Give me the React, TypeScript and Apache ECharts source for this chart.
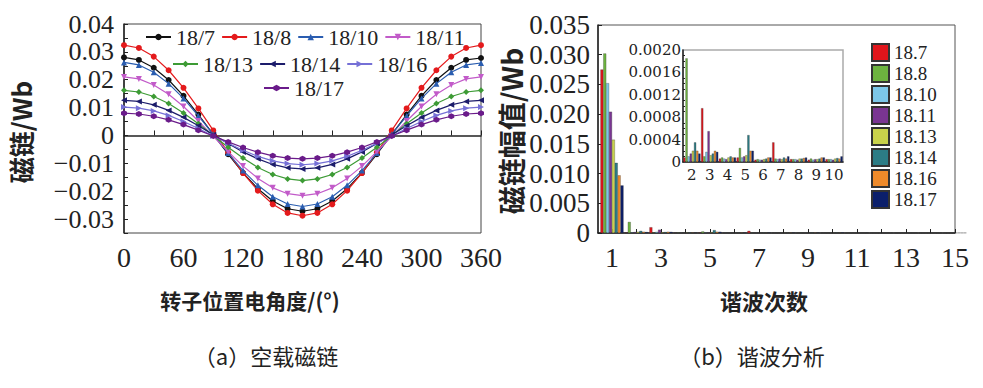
import React, { useEffect, useRef } from 'react';
import * as echarts from 'echarts';

// ---------- (a) no-load flux linkage ----------
const angles = [0, 15, 30, 45, 60, 75, 90, 105, 120, 135, 150, 165, 180, 195, 210, 225, 240, 255, 270, 285, 300, 315, 330, 345, 360];
const flux187 = [0.0280, 0.0271, 0.0243, 0.0199, 0.0142, 0.0075, 0.0004, -0.0067, -0.0134, -0.0191, -0.0235, -0.0263, -0.0272, -0.0263, -0.0235, -0.0191, -0.0134, -0.0067, 0.0004, 0.0075, 0.0142, 0.0199, 0.0243, 0.0271, 0.0278];
const flux188 = [0.0324, 0.0314, 0.0283, 0.0234, 0.0171, 0.0097, 0.0018, -0.0061, -0.0135, -0.0198, -0.0247, -0.0278, -0.0288, -0.0278, -0.0247, -0.0198, -0.0135, -0.0061, 0.0018, 0.0097, 0.0171, 0.0234, 0.0283, 0.0314, 0.0324];
const flux1810 = [0.0262, 0.0253, 0.0227, 0.0186, 0.0133, 0.0070, 0.0004, -0.0063, -0.0126, -0.0179, -0.0220, -0.0246, -0.0255, -0.0246, -0.0220, -0.0179, -0.0126, -0.0063, 0.0004, 0.0070, 0.0133, 0.0186, 0.0227, 0.0253, 0.0260];
const flux1811 = [0.0210, 0.0203, 0.0181, 0.0148, 0.0104, 0.0052, -0.0003, -0.0058, -0.0110, -0.0154, -0.0188, -0.0209, -0.0216, -0.0209, -0.0188, -0.0154, -0.0110, -0.0058, -0.0003, 0.0052, 0.0104, 0.0148, 0.0181, 0.0203, 0.0210];
const flux1813 = [0.0162, 0.0156, 0.0140, 0.0115, 0.0081, 0.0042, 0.0000, -0.0042, -0.0081, -0.0115, -0.0140, -0.0156, -0.0162, -0.0156, -0.0140, -0.0115, -0.0081, -0.0042, 0.0000, 0.0042, 0.0081, 0.0115, 0.0140, 0.0156, 0.0162];
const flux1814 = [0.0126, 0.0122, 0.0110, 0.0090, 0.0065, 0.0035, 0.0003, -0.0029, -0.0059, -0.0084, -0.0104, -0.0116, -0.0120, -0.0116, -0.0104, -0.0084, -0.0059, -0.0029, 0.0003, 0.0035, 0.0065, 0.0090, 0.0110, 0.0122, 0.0126];
const flux1816 = [0.0102, 0.0098, 0.0088, 0.0072, 0.0050, 0.0025, -0.0002, -0.0028, -0.0053, -0.0075, -0.0091, -0.0101, -0.0105, -0.0101, -0.0091, -0.0075, -0.0053, -0.0028, -0.0002, 0.0025, 0.0050, 0.0072, 0.0088, 0.0098, 0.0102];
const flux1817 = [0.0080, 0.0077, 0.0069, 0.0056, 0.0039, 0.0019, -0.0002, -0.0023, -0.0043, -0.0060, -0.0073, -0.0081, -0.0084, -0.0081, -0.0073, -0.0060, -0.0043, -0.0023, -0.0002, 0.0019, 0.0039, 0.0056, 0.0069, 0.0077, 0.0080];
const lineNames = ['18/7', '18/8', '18/10', '18/11', '18/13', '18/14', '18/16', '18/17'];

// ---------- (b) harmonic analysis ----------
const harmonics = [1, 2, 3, 4, 5, 6, 7, 8, 9, 10, 11, 12, 13, 14, 15];
const harmonicLabels = [1, 3, 5, 7, 9, 11, 13, 15];
const insetLabels = ['2', '3', '4', '5', '6', '7', '8', '9', '10'];
const amp187 = [0.0275, 0.00008, 0.00096, 0.00006, 0.00008, 0.00004, 0.00035, 0.00005, 0.00004, 0.00005, 0.00004, 0.00003, 0.00004, 0.00003, 0.00003];
const amp188 = [0.0302, 0.00185, 0.0001, 0.00008, 0.00025, 0.00005, 0.00006, 0.00005, 0.00006, 0.00005, 0.00004, 0.00004, 0.00003, 0.00004, 0.00003];
const amp1810 = [0.0252, 0.0001, 0.00018, 0.00006, 0.00008, 0.00004, 0.00005, 0.00005, 0.00004, 0.00005, 0.00003, 0.00004, 0.00003, 0.00003, 0.00003];
const amp1811 = [0.0204, 0.00015, 0.00055, 0.00005, 0.0001, 0.00004, 0.00006, 0.00004, 0.00005, 0.00004, 0.00004, 0.00003, 0.00004, 0.00003, 0.00003];
const amp1813 = [0.0157, 0.0002, 0.00012, 0.00008, 0.00012, 0.00005, 0.00005, 0.00006, 0.00005, 0.00006, 0.00004, 0.00004, 0.00003, 0.00004, 0.00003];
const amp1814 = [0.0118, 0.00035, 0.00015, 0.0001, 0.00048, 0.00006, 0.00008, 0.00006, 0.00006, 0.00007, 0.00005, 0.00004, 0.00004, 0.00003, 0.00004];
const amp1816 = [0.0097, 0.0002, 0.0002, 0.00008, 0.0002, 0.00008, 0.00006, 0.00007, 0.00008, 0.00006, 0.00005, 0.00005, 0.00004, 0.00004, 0.00003];
const amp1817 = [0.0080, 0.00015, 0.00018, 0.00008, 0.0002, 0.00008, 0.0001, 0.00008, 0.00008, 0.0001, 0.00006, 0.00005, 0.00005, 0.00004, 0.00004];
const barNames = ['18.7', '18.8', '18.10', '18.11', '18.13', '18.14', '18.16', '18.17'];

const lineColors = ['#111111', '#e41a1c', '#2a5db0', '#c25bc9', '#3d9b35', '#1c1c6b', '#7570d6', '#6a1b8a'];
const lineSymbols = ['circle', 'circle', 'triangle', 'triangle', 'diamond', 'triangle', 'triangle', 'path://M0,-1 L0.866,-0.5 L0.866,0.5 L0,1 L-0.866,0.5 L-0.866,-0.5Z'];
const lineRotates = [0, 0, 0, 180, 0, 90, -90, 0];
const barColors = ['#e0151b', '#6db33f', '#7cc7e8', '#7a3592', '#c9d24b', '#2c7c85', '#ee8a2a', '#0b1f6b'];

const SERIF = 'Liberation Serif';
const WIDE_SERIF = 'DejaVu Serif';
const CJK = 'Noto Sans CJK SC';

function fmtY(v: number) {
  const k = Math.round(v * 1000);
  if (k % 10 !== 0) return '';
  if (k === 0) return '0';
  return (k < 0 ? '\u2212' : '') + (Math.abs(k) / 1000).toFixed(2);
}

export default function App() {
  const ref = useRef<HTMLDivElement>(null);
  useEffect(() => {
    const chart = echarts.init(ref.current!, null, { renderer: 'svg' });
    const fluxes = [flux187, flux188, flux1810, flux1811, flux1813, flux1814, flux1816, flux1817];
    const amps = [amp187, amp188, amp1810, amp1811, amp1813, amp1814, amp1816, amp1817];

    const lineSeries = lineNames.map((name, i) => ({
      name,
      type: 'line',
      xAxisIndex: 0,
      yAxisIndex: 0,
      data: angles.map((a, j) => [a, fluxes[i][j]]),
      symbol: lineSymbols[i],
      symbolRotate: lineRotates[i],
      symbolSize: 6,
      lineStyle: { color: lineColors[i], width: 1.2 },
      itemStyle: { color: lineColors[i] },
      z: 3 + i,
    }));

    const mainBars = barNames.map((name, i) => ({
      name,
      type: 'bar',
      xAxisIndex: 1,
      yAxisIndex: 1,
      data: harmonics.map((h, j) => [h, amps[i][j]]),
      barGap: '0%',
      barCategoryGap: '6%',
      itemStyle: { color: barColors[i], borderColor: '#333', borderWidth: 0.3 },
    }));

    const insetBars = barNames.map((name, i) => ({
      name,
      type: 'bar',
      xAxisIndex: 2,
      yAxisIndex: 2,
      data: amps[i].slice(1, 10),
      barGap: '0%',
      barCategoryGap: '4%',
      z: 10,
      itemStyle: { color: barColors[i], borderColor: '#333', borderWidth: 0.3 },
    }));

    const axisLine = { show: true, lineStyle: { color: '#222', width: 1.5 } };
    const legendText = { fontFamily: SERIF, fontSize: 22, color: '#222' };
    const titleStyle = (text: string, size: number, weight: string) => ({
      text, fontFamily: CJK, fontSize: size, fontWeight: weight, fill: '#222',
      textAlign: 'center', textVerticalAlign: 'middle',
    });

    chart.setOption({
      animation: false,
      backgroundColor: '#fff',
      grid: [
        { left: 124, top: 24, width: 357, height: 209, show: true, borderColor: '#444', borderWidth: 1 },
        { left: 598, top: 25, width: 357, height: 208, show: true, borderColor: '#555', borderWidth: 1 },
        { left: 683, top: 50, width: 160, height: 112, show: true, borderColor: '#aaa', borderWidth: 1.5, backgroundColor: '#fff', z: 5 },
      ],
      xAxis: [
        {
          gridIndex: 0, type: 'value', min: 0, max: 360, interval: 60,
          axisLine, splitLine: { show: false },
          axisTick: { inside: true, length: 5, lineStyle: { color: '#222' } },
          minorTick: { show: true, splitNumber: 2, length: 5, lineStyle: { color: '#222' } },
          axisLabel: { fontFamily: SERIF, fontSize: 28, color: '#222', margin: 10 },
        },
        {
          gridIndex: 1, type: 'value', min: 0.43, max: 15,
          axisLine, splitLine: { show: false },
          axisTick: { inside: true, length: 4, customValues: harmonics, lineStyle: { color: '#222' } },
          axisLabel: { fontFamily: SERIF, fontSize: 28, color: '#222', margin: 10, customValues: harmonicLabels },
        },
        {
          gridIndex: 2, type: 'category', data: insetLabels,
          axisLine, splitLine: { show: false },
          axisTick: { inside: true, length: 3, alignWithLabel: true, interval: 0, lineStyle: { color: '#222' } },
          axisLabel: { fontFamily: WIDE_SERIF, fontSize: 15, color: '#222', margin: 5, interval: 0 },
          z: 10,
        },
      ],
      yAxis: [
        {
          gridIndex: 0, type: 'value', min: -0.035, max: 0.04, interval: 0.005,
          axisLine, splitLine: { show: false },
          axisTick: { inside: true, length: 4, lineStyle: { color: '#222' } },
          axisLabel: { fontFamily: SERIF, fontSize: 26, color: '#222', margin: 10, formatter: fmtY },
        },
        {
          gridIndex: 1, type: 'value', min: 0, max: 0.035, interval: 0.005,
          axisLine, splitLine: { show: false },
          axisTick: { inside: true, length: 4, lineStyle: { color: '#222' } },
          axisLabel: {
            fontFamily: SERIF, fontSize: 27, color: '#222', margin: 8,
            formatter: (v: number) => (v === 0 ? '0' : v.toFixed(3)),
          },
        },
        {
          gridIndex: 2, type: 'value', min: 0, max: 0.002, interval: 0.0004,
          axisLine, splitLine: { show: false },
          axisTick: { inside: true, length: 3, lineStyle: { color: '#222' } },
          minorTick: { show: true, splitNumber: 4, length: 2, lineStyle: { color: '#222' } },
          axisLabel: {
            fontFamily: WIDE_SERIF, fontSize: 15, color: '#222', margin: 2,
            formatter: (v: number) => (v === 0 ? '0' : v.toFixed(4)),
          },
          z: 10,
        },
      ],
      legend: [
        { data: lineNames.slice(0, 4), left: 145, top: 26, padding: 0, itemWidth: 25, itemHeight: 8, itemGap: 6, textStyle: legendText, selectedMode: false },
        { data: lineNames.slice(4, 7), left: 172, top: 53, padding: 0, itemWidth: 25, itemHeight: 8, itemGap: 6, textStyle: legendText, selectedMode: false },
        { data: lineNames.slice(7), left: 263, top: 77, padding: 0, itemWidth: 25, itemHeight: 8, itemGap: 6, textStyle: legendText, selectedMode: false },
        {
          data: barNames, orient: 'vertical', left: 871, top: 43, padding: 0, icon: 'rect',
          itemWidth: 17, itemHeight: 17, itemGap: 2, selectedMode: false,
          textStyle: { fontFamily: SERIF, fontSize: 19, color: '#222' },
        },
      ],
      graphic: [
        { type: 'text', x: 20, y: 132, rotation: Math.PI / 2, style: titleStyle('磁链/Wb', 26, 'bold') },
        { type: 'text', x: 511, y: 131, rotation: Math.PI / 2, style: titleStyle('磁链幅值/Wb', 28, 'bold') },
        { type: 'text', x: 250, y: 300, style: titleStyle('转子位置电角度/(°)', 21, 'bold') },
        { type: 'text', x: 764, y: 300, style: titleStyle('谐波次数', 22, 'bold') },
        { type: 'text', x: 266, y: 355, style: titleStyle('（a）空载磁链', 22, 'normal') },
        { type: 'text', x: 752, y: 355, style: titleStyle('（b）谐波分析', 22, 'normal') },
      ],
      series: [...lineSeries, ...mainBars, ...insetBars],
    });
    return () => chart.dispose();
  }, []);
  return (
    <div
      ref={ref}
      style={{ position: 'fixed', left: 0, top: 0, width: 983, height: 388, background: '#fff' }}
    />
  );
}
